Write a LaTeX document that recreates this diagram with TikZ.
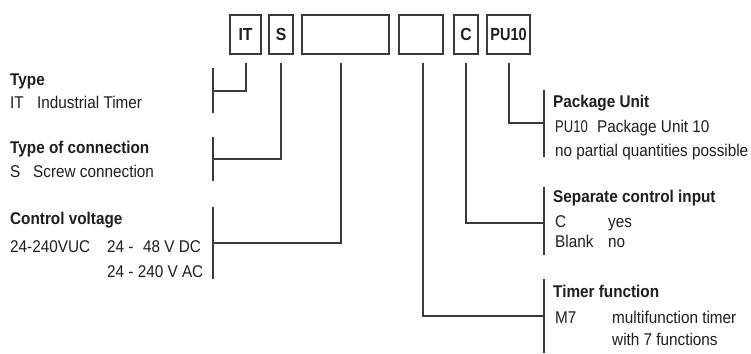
\documentclass[tikz,border=0pt]{standalone}
\usepackage{fontspec}
\setmainfont{Liberation Sans}[FakeStretch=0.9]
\definecolor{ink}{HTML}{1E1E1E}
\definecolor{wirec}{HTML}{3A3A3A}
\begin{document}
\begin{tikzpicture}[x=1pt,y=-1pt,
  box/.style={draw=wirec, line width=1.4pt, inner sep=0pt, minimum height=39pt,
    font=\bfseries\fontsize{17.5}{20}\selectfont, text=ink},
  lbl/.style={inner sep=0pt, anchor=base west, font=\fontsize{17}{20}\selectfont, text=ink},
  head/.style={lbl, font=\bfseries\fontsize{17}{20}\selectfont},
  wire/.style={draw=wirec, line width=1.2pt}]
\useasboundingbox (0,0) rectangle (751,353);

% code boxes
\node[box, minimum width=31pt] (bIT) at (245.5,34.5) {IT};
\node[box, minimum width=24pt] (bS)  at (281,34.5) {S};
\node[box, minimum width=87pt] (bV)  at (345.5,34.5) {};
\node[box, minimum width=44pt] (bF)  at (421,34.5) {};
\node[box, minimum width=24pt] (bC)  at (466,34.5) {C};
\node[box, minimum width=43pt] (bPU) at (508.5,34.5) {\scalebox{0.92}[1]{PU10}};

% bracket attachment points
\coordinate (kType) at (213,91);
\coordinate (kConn) at (213,159);
\coordinate (kVolt) at (213,243);
\coordinate (kPack) at (544,123);
\coordinate (kSep)  at (544,223);
\coordinate (kFun)  at (544,316);

% connectors
\draw[wire] ([xshift=0.5pt,yshift=-8pt]bIT.south) |- (kType);
\draw[wire] ([yshift=-8pt]bS.south) |- (kConn);
\draw[wire] ([xshift=-4.5pt,yshift=-8pt]bV.south) |- (kVolt);
\draw[wire] ([xshift=2pt,yshift=-8pt]bF.south) |- (kFun);
\draw[wire] ([yshift=-8pt]bC.south) |- (kSep);
\draw[wire] ([xshift=0.5pt,yshift=-8pt]bPU.south) |- (kPack);

% brackets
\draw[wire] (213,68) -- (213,113);
\draw[wire] (213,137) -- (213,181);
\draw[wire] (213,207) -- (213,279);
\draw[wire] (544,90) -- (544,157);
\draw[wire] (544,187) -- (544,255);
\draw[wire] (544,279) -- (544,353);

% left texts
\node[head] (hType) at (10,85) {Type};
\node[lbl] (tIT1) at (10,108) {IT};
\node[lbl] (tIT2) at (37,108) {Industrial Timer};
\node[head] (hConn) at (10,153) {Type of connection};
\node[lbl] (tS1) at (10,177) {S};
\node[lbl] (tS2) at (33,177) {Screw connection};
\node[head] (hVolt) at (10,224) {Control voltage};
\node[lbl] (tV1) at (10,252) {24-240VUC};
\node[lbl] (tV2) at (107,252) {24 -};
\node[lbl] (tV3) at (143,252) {48 V DC};
\node[lbl] (tV4) at (107,277) {24 - 240 V AC};

% right texts
\node[head] (hPack) at (553,107) {Package Unit};
\node[lbl] (tP1) at (555,132) {\scalebox{0.85}[1]{PU10}};
\node[lbl] (tP2) at (597,132) {Package Unit 10};
\node[lbl] (tP3) at (555,156) {no partial quantities possible};
\node[head] (hSep) at (553,202) {Separate control input};
\node[lbl] (tC1) at (555,227) {C};
\node[lbl] (tC2) at (608,227) {yes};
\node[lbl] (tB1) at (555,247) {Blank};
\node[lbl] (tB2) at (608,247) {no};
\node[head] (hFun) at (553,297) {Timer function};
\node[lbl] (tM1) at (555,323) {M7};
\node[lbl] (tM2) at (612,323) {multifunction timer};
\node[lbl] (tM3) at (612,345) {with 7 functions};
\end{tikzpicture}
\end{document}
